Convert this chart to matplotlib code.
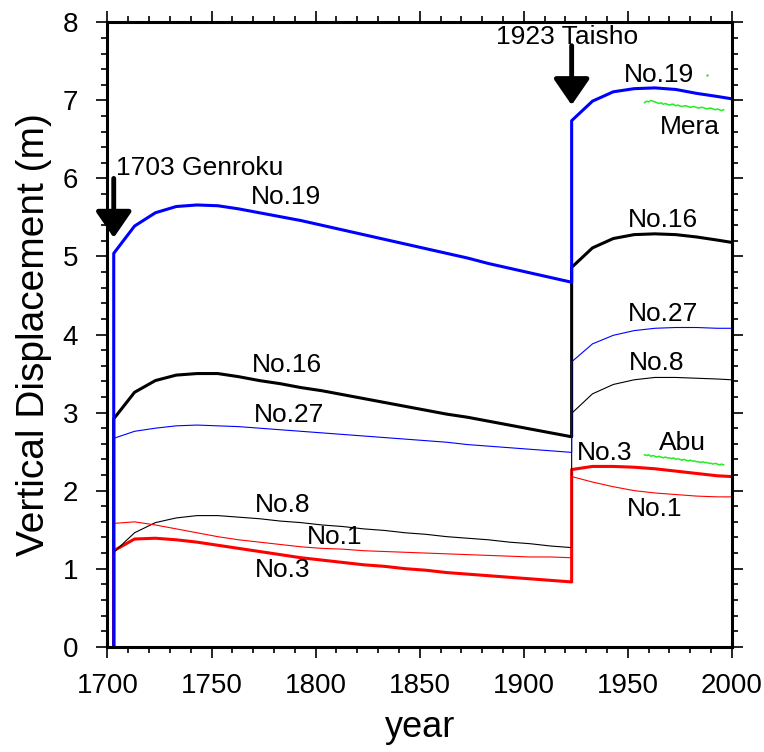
import numpy as np
import matplotlib.pyplot as plt
from matplotlib.ticker import MultipleLocator

plt.rcParams['font.family'] = ['Liberation Sans', 'DejaVu Sans']

# model years: after 1703 Genroku and after 1923 Taisho
yr_pre = [1703, 1713, 1723, 1733, 1743, 1753, 1763, 1773, 1783, 1793, 1803, 1813,
          1823, 1833, 1843, 1853, 1863, 1873, 1883, 1893, 1903, 1913, 1923]
yr_post = [1923, 1933, 1943, 1953, 1963, 1973, 1983, 1993, 2000]

no19_pre = [5.04, 5.39, 5.56, 5.64, 5.66, 5.65, 5.61, 5.56, 5.51, 5.46, 5.40, 5.34,
            5.28, 5.22, 5.16, 5.10, 5.04, 4.98, 4.91, 4.85, 4.79, 4.73, 4.67]
no19_post = [6.74, 6.99, 7.11, 7.15, 7.16, 7.14, 7.09, 7.05, 7.02]

no16_pre = [2.92, 3.26, 3.41, 3.48, 3.50, 3.50, 3.46, 3.41, 3.37, 3.32, 3.28, 3.23,
            3.18, 3.13, 3.08, 3.03, 2.98, 2.94, 2.89, 2.84, 2.79, 2.74, 2.69]
no16_post = [4.86, 5.11, 5.23, 5.28, 5.29, 5.28, 5.25, 5.21, 5.18]

no27_pre = [2.67, 2.76, 2.80, 2.83, 2.84, 2.83, 2.82, 2.80, 2.78, 2.76, 2.74, 2.72,
            2.70, 2.68, 2.66, 2.64, 2.62, 2.59, 2.57, 2.55, 2.53, 2.51, 2.49]
no27_post = [3.65, 3.88, 3.99, 4.05, 4.08, 4.09, 4.09, 4.08, 4.08]

no8_pre = [1.21, 1.46, 1.59, 1.65, 1.68, 1.68, 1.66, 1.64, 1.61, 1.59, 1.56, 1.54,
           1.51, 1.49, 1.46, 1.44, 1.41, 1.39, 1.37, 1.34, 1.32, 1.29, 1.27]
no8_post = [2.99, 3.24, 3.36, 3.42, 3.45, 3.45, 3.44, 3.43, 3.42]

no1_pre = [1.58, 1.60, 1.56, 1.51, 1.46, 1.41, 1.37, 1.34, 1.31, 1.28, 1.26, 1.25,
           1.23, 1.22, 1.21, 1.20, 1.19, 1.18, 1.17, 1.16, 1.15, 1.15, 1.14]
no1_post = [2.18, 2.11, 2.05, 2.00, 1.97, 1.95, 1.93, 1.92, 1.92]

no3_pre = [1.23, 1.38, 1.39, 1.37, 1.34, 1.30, 1.26, 1.22, 1.18, 1.14, 1.11, 1.08,
           1.05, 1.03, 1.00, 0.98, 0.95, 0.93, 0.91, 0.89, 0.87, 0.85, 0.83]
no3_post = [2.27, 2.31, 2.31, 2.30, 2.28, 2.25, 2.22, 2.19, 2.18]

# tide gauge observations
obs_start = 1958
mera = [6.97, 6.99, 6.98, 7.00, 6.99, 6.98, 6.97, 6.96, 6.97, 6.95, 6.96, 6.95, 6.94,
        6.95, 6.95, 6.93, 6.94, 6.93, 6.92, 6.93, 6.93, 6.92, 6.91, 6.92, 6.92, 6.91,
        6.90, 6.91, 6.91, 6.90, 6.89, 6.90, 6.90, 6.89, 6.88, 6.89, 6.88, 6.87, 6.88]
abu = [2.46, 2.45, 2.46, 2.44, 2.45, 2.44, 2.43, 2.44, 2.43, 2.42, 2.43, 2.42, 2.42,
       2.41, 2.42, 2.40, 2.41, 2.40, 2.39, 2.40, 2.39, 2.38, 2.39, 2.38, 2.38, 2.37,
       2.37, 2.36, 2.37, 2.36, 2.36, 2.35, 2.35, 2.34, 2.35, 2.34, 2.33, 2.34, 2.33]

labels = [
    ("No.19", 1786, 5.76), ("No.19", 1965, 7.33),
    ("No.16", 1786, 3.61), ("No.16", 1967, 5.47),
    ("No.27", 1787, 2.97), ("No.27", 1967, 4.26),
    ("No.8", 1784, 1.82), ("No.8", 1964, 3.63),
    ("No.1", 1809, 1.41), ("No.1", 1963, 1.77),
    ("No.3", 1784, 0.98), ("No.3", 1939, 2.48),
    ("Mera", 1980, 6.66), ("Abu", 1976, 2.61),
]


def series(pre, post):
    x = [yr_pre[0]] + yr_pre + yr_post
    y = [0] + pre + post
    return x, y


fig = plt.figure(figsize=(7.64, 7.52), dpi=100)
ax = fig.add_axes([0.1407, 0.140, 0.8173, 0.8303])

thick, thin = 2.2, 0.8
ax.plot(*series(no16_pre, no16_post), color='black', lw=thick)
ax.plot(*series(no3_pre, no3_post), color='red', lw=thick)
ax.plot(*series(no8_pre, no8_post), color='black', lw=thin)
ax.plot(*series(no1_pre, no1_post), color='red', lw=thin)
ax.plot(*series(no27_pre, no27_post), color='blue', lw=thin)
ax.plot(*series(no19_pre, no19_post), color='blue', lw=thick)

obs_yr = np.arange(obs_start, obs_start + len(mera))
ax.plot(obs_yr, mera, color='#22ee22', lw=1.1)
ax.plot(obs_yr[:len(abu)], abu, color='#22ee22', lw=1.1)
ax.plot([1988], [7.33], marker='.', ms=1.5, color='#22ee22')

for txt, x, y in labels:
    ax.text(x, y, txt, fontsize=19, ha='center', va='center')

arrow = dict(arrowstyle='-|>,head_length=0.8,head_width=0.55', color='black',
             lw=3.5, mutation_scale=20, shrinkA=0, shrinkB=0)
ax.annotate('', xy=(1703, 5.24), xytext=(1703, 6.0), arrowprops=arrow)
ax.annotate('', xy=(1923, 6.94), xytext=(1923, 7.70), arrowprops=arrow)
ax.text(1704, 6.13, "1703 Genroku", fontsize=19, ha='left', va='center')
ax.text(1921, 7.81, "1923 Taisho", fontsize=19, ha='center', va='center')

ax.set_xlim(1700, 2000)
ax.set_ylim(0, 8)
ax.xaxis.set_major_locator(MultipleLocator(50))
ax.xaxis.set_minor_locator(MultipleLocator(10))
ax.yaxis.set_major_locator(MultipleLocator(1))
ax.yaxis.set_minor_locator(MultipleLocator(0.2))
ax.tick_params(which='both', direction='out', top=True, right=True, width=1.2)
ax.tick_params(which='major', length=8, labelsize=20)
ax.tick_params(axis='x', which='major', pad=11)
ax.tick_params(axis='y', which='major', pad=13)
ax.tick_params(which='minor', length=4.5)
for s in ax.spines.values():
    s.set_linewidth(2.2)

ax.set_xlabel("year", fontsize=26, labelpad=8)
ax.set_ylabel("Vertical Displacement (m)", fontsize=28, labelpad=8)

plt.savefig("out.png", dpi=100)
